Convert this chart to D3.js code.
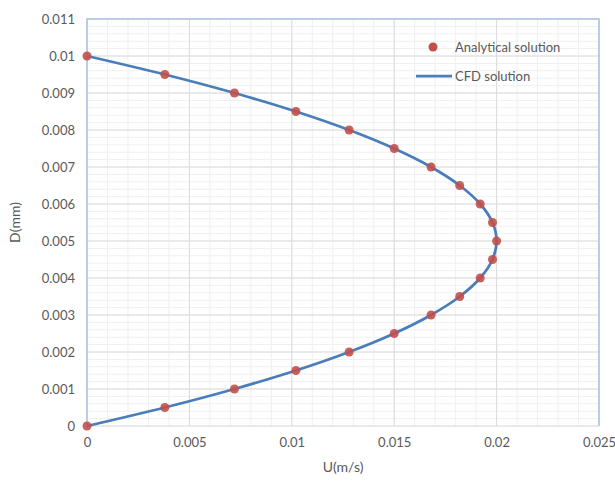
<!DOCTYPE html>
<html>
<head>
<meta charset="utf-8">
<script src="https://cdn.jsdelivr.net/npm/d3@7"></script>
<style>
    body { margin: 0; background: #fff; }
    text { font-family: Lato, "Open Sans", sans-serif; fill: #595959; }
</style>
</head>
<body>
<div id="chart"></div>
<script>

    // analytical solution, D vs U
    var analyticalD = [0, 0.0005, 0.001, 0.0015, 0.002, 0.0025, 0.003, 0.0035, 0.004, 0.0045, 0.005,
                       0.0055, 0.006, 0.0065, 0.007, 0.0075, 0.008, 0.0085, 0.009, 0.0095, 0.01];
    var analyticalU = [0, 0.0038, 0.0072, 0.0102, 0.0128, 0.015, 0.0168, 0.0182, 0.0192, 0.0198, 0.02,
                       0.0198, 0.0192, 0.0182, 0.0168, 0.015, 0.0128, 0.0102, 0.0072, 0.0038, 0];

    // CFD solution
    var cfdD = [0, 0.0005, 0.001, 0.0015, 0.002, 0.0025, 0.003, 0.0035, 0.004, 0.0045, 0.005,
                0.0055, 0.006, 0.0065, 0.007, 0.0075, 0.008, 0.0085, 0.009, 0.0095, 0.01];
    var cfdU = [0, 0.0038, 0.0072, 0.0102, 0.0128, 0.015, 0.0168, 0.0182, 0.0192, 0.0198, 0.02,
                0.0198, 0.0192, 0.0182, 0.0168, 0.015, 0.0128, 0.0102, 0.0072, 0.0038, 0];

    var xTicks = [0, 0.005, 0.01, 0.015, 0.02, 0.025];
    var yTicks = [0, 0.001, 0.002, 0.003, 0.004, 0.005, 0.006, 0.007, 0.008, 0.009, 0.01, 0.011];

    var margin = {top: 19, right: 16, bottom: 56, left: 87},
        width = 615 - margin.left - margin.right,
        height = 482 - margin.top - margin.bottom;

    var svg = d3.select("#chart")
        .append("svg")
        .attr("width", 615)
        .attr("height", 482)
        .append("g")
        .attr("transform", "translate(" + margin.left + "," + margin.top + ")");

    var x = d3.scaleLinear().domain([0, 0.025]).range([0, width]);
    var y = d3.scaleLinear().domain([0, 0.011]).range([height, 0]);

    // minor grid (major / 5)
    var xMinor = x.ticks(25);
    var yMinor = y.ticks(55);

    svg.append("g").selectAll("line")
        .data(xMinor).enter().append("line")
        .attr("x1", function (d) { return x(d); }).attr("x2", function (d) { return x(d); })
        .attr("y1", 0).attr("y2", height)
        .style("stroke", "#f0f0f0").style("stroke-width", 1);

    svg.append("g").selectAll("line")
        .data(yMinor).enter().append("line")
        .attr("y1", function (d) { return y(d); }).attr("y2", function (d) { return y(d); })
        .attr("x1", 0).attr("x2", width)
        .style("stroke", "#f0f0f0").style("stroke-width", 1);

    // major grid
    svg.append("g").selectAll("line")
        .data(xTicks).enter().append("line")
        .attr("x1", function (d) { return x(d); }).attr("x2", function (d) { return x(d); })
        .attr("y1", 0).attr("y2", height)
        .style("stroke", "#dcdcdc").style("stroke-width", 1);

    svg.append("g").selectAll("line")
        .data(yTicks).enter().append("line")
        .attr("y1", function (d) { return y(d); }).attr("y2", function (d) { return y(d); })
        .attr("x1", 0).attr("x2", width)
        .style("stroke", "#dcdcdc").style("stroke-width", 1);

    // plot border: blue on left, top and right
    svg.append("path")
        .attr("d", "M0," + height + "V0H" + width + "V" + height)
        .style("fill", "none")
        .style("stroke", "#a9c4e8")
        .style("stroke-width", 1.5);

    // axes (labels only)
    var fmt = function (d) { return String(+d.toFixed(4)); };
    var xAxis = svg.append("g")
        .attr("transform", "translate(0," + height + ")")
        .call(d3.axisBottom(x).tickValues(xTicks).tickSize(0).tickPadding(12).tickFormat(fmt));
    var yAxis = svg.append("g")
        .call(d3.axisLeft(y).tickValues(yTicks).tickSize(0).tickPadding(12).tickFormat(fmt));
    [xAxis, yAxis].forEach(function (a) {
        a.select(".domain").remove();
        a.selectAll("text").style("font-size", "13px").style("fill", "#595959")
            .style("font-family", "Lato, 'Open Sans', sans-serif");
    });

    // axis titles
    svg.append("text")
        .attr("transform", "translate(" + (width / 2) + "," + (height + 46) + ")")
        .style("text-anchor", "middle")
        .style("font-size", "14px")
        .text("U(m/s)");

    svg.append("text")
        .attr("transform", "rotate(-90)")
        .attr("y", -67)
        .attr("x", -(height / 2))
        .style("text-anchor", "middle")
        .style("font-size", "14px")
        .text("D(mm)");

    // CFD line
    var line = d3.line()
        .x(function (d, i) { return x(cfdU[i]); })
        .y(function (d) { return y(d); })
        .curve(d3.curveCatmullRom);

    svg.append("path")
        .datum(cfdD)
        .attr("d", line)
        .style("fill", "none")
        .style("stroke", "#4a7ebb")
        .style("stroke-width", 2.75);

    // analytical dots
    svg.append("g").selectAll("circle")
        .data(analyticalD).enter().append("circle")
        .attr("cx", function (d, i) { return x(analyticalU[i]); })
        .attr("cy", function (d) { return y(d); })
        .attr("r", 4.5)
        .style("fill", "#c0504d")
        .style("opacity", 0.9);

    // legend
    var legend = svg.append("g");
    legend.append("circle")
        .attr("cx", 346).attr("cy", 28).attr("r", 4.5)
        .style("fill", "#c0504d");
    legend.append("text")
        .attr("x", 368).attr("y", 28).attr("dy", "0.35em")
        .style("font-size", "13px")
        .text("Analytical solution");
    legend.append("line")
        .attr("x1", 329).attr("x2", 365).attr("y1", 57).attr("y2", 57)
        .style("stroke", "#4a7ebb").style("stroke-width", 2.75);
    legend.append("text")
        .attr("x", 368).attr("y", 57).attr("dy", "0.35em")
        .style("font-size", "13px")
        .text("CFD solution");

</script>
</body>
</html>
